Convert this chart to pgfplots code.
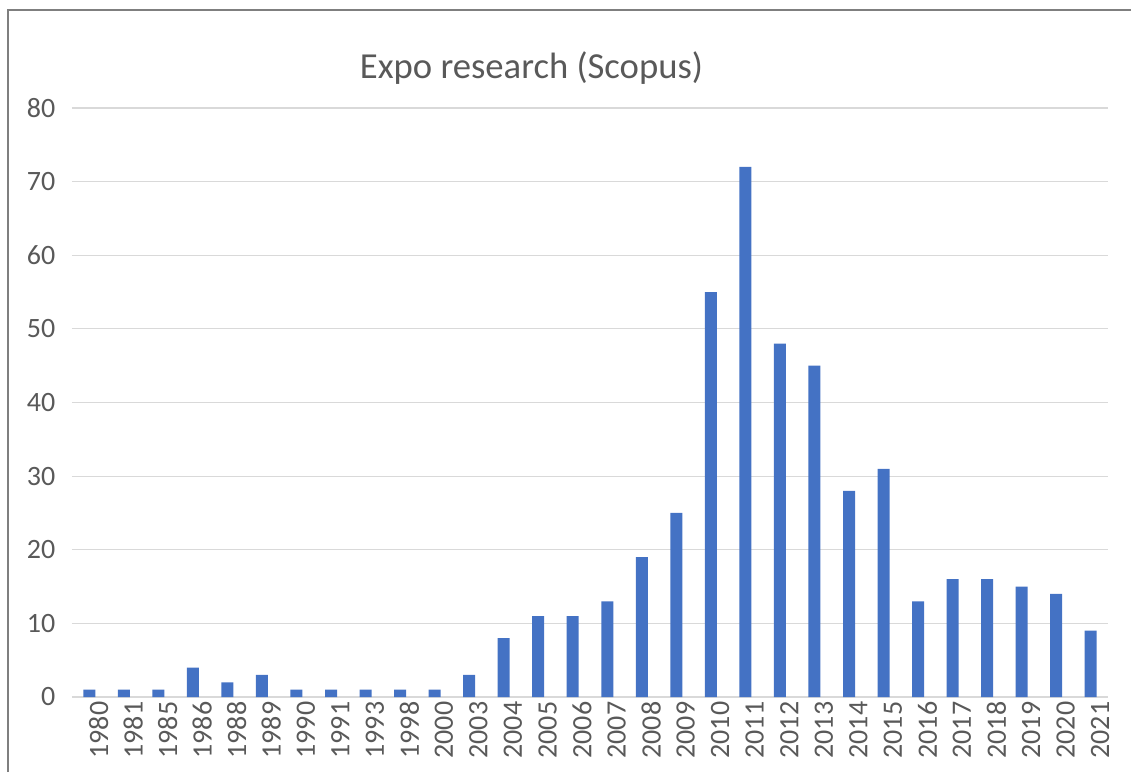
\documentclass[border=0pt]{standalone}
\usepackage{pgfplots}
\pgfplotsset{compat=1.18}
\usepackage{fontspec}
\setmainfont{Carlito}
\definecolor{barblue}{HTML}{4472C4}
\definecolor{txtgray}{HTML}{595959}
\definecolor{gridgray}{HTML}{D9D9D9}
\definecolor{framegray}{HTML}{7F7F7F}
\begin{document}
\begin{tikzpicture}[x=1pt,y=1pt]
\useasboundingbox (0,0) rectangle (848.25,579);
\draw[framegray, line width=0.9pt] (6,0) -- (6,571.5) -- (848.25,571.5);
\begin{axis}[
  at={(54pt,56.25pt)}, anchor=south west,
  scale only axis, width=777pt, height=441.75pt,
  ymin=0, ymax=80, ytick={0,10,...,80},
  xmin=-0.5, xmax=29.5,
  xtick=data,
  xticklabels={1980,1981,1985,1986,1988,1989,1990,1991,1993,1998,2000,2003,2004,2005,2006,2007,2008,2009,2010,2011,2012,2013,2014,2015,2016,2017,2018,2019,2020,2021},
  ymajorgrids, grid style={gridgray, line width=0.9pt},
  axis line style={draw=none},
  major tick length=0pt,
  tick style={draw=none},
  /pgf/number format/assume math mode=true,
  every tick label/.style={font=\fontsize{21}{24}\selectfont, text=txtgray},
  yticklabel style={xshift=-9pt},
  xticklabel style={rotate=90, anchor=east, xshift=0pt, yshift=-7pt},
  clip=false,
]
\draw[gridgray, line width=0.9pt] (axis cs:-0.5,0) -- (axis cs:29.5,0);
\addplot[ybar, bar width=9pt, fill=barblue, draw=none] coordinates {
(0,1) (1,1) (2,1) (3,4) (4,2) (5,3) (6,1) (7,1) (8,1) (9,1)
(10,1) (11,3) (12,8) (13,11) (14,11) (15,13) (16,19) (17,25) (18,55) (19,72)
(20,48) (21,45) (22,28) (23,31) (24,13) (25,16) (26,16) (27,15) (28,14) (29,9)
};
\end{axis}
\node[anchor=base, text=txtgray, font=\fontsize{27.5}{30}\selectfont] at (398.6,519.75) {Expo research (Scopus)};
\end{tikzpicture}
\end{document}
